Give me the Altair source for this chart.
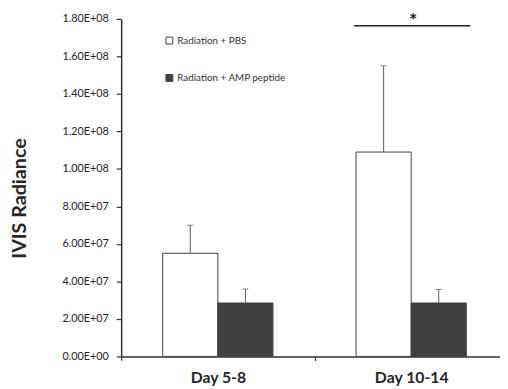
import altair as alt
import pandas as pd

categories = ["Day 5-8", "Day 10-14"]
groups = ["Radiation + PBS", "Radiation + AMP peptide"]
pbs_mean = [5.5e7, 1.09e8]
pbs_err = [1.5e7, 4.6e7]
amp_mean = [2.85e7, 2.85e7]
amp_err = [0.75e7, 0.72e7]
y_ticks = [0.0, 2e7, 4e7, 6e7, 8e7, 1e8, 1.2e8, 1.4e8, 1.6e8, 1.8e8]
sig_day = ["Day 10-14"]
sig_level = [1.763e8]
sig_label = ["*"]

rows = []
for i, c in enumerate(categories):
    rows.append(dict(day=c, group=groups[0], mean=pbs_mean[i], upper=pbs_mean[i] + pbs_err[i]))
    rows.append(dict(day=c, group=groups[1], mean=amp_mean[i], upper=amp_mean[i] + amp_err[i]))
df = pd.DataFrame(rows)
sig = pd.DataFrame({"day": sig_day, "mean": sig_level, "label": sig_label})

FONT = "Lato"
TXT = "#262626"
AX = "#333333"

label_expr = (
    "datum.value == 0 ? '0.00E+00' : "
    "format(datum.value / pow(10, floor(log(datum.value)/LN10 + 1e-9)), '.2f') + 'E+' + "
    "(floor(log(datum.value)/LN10 + 1e-9) < 10 ? '0' : '') + floor(log(datum.value)/LN10 + 1e-9)"
)

x = alt.X(
    "day:N", sort=categories,
    scale=alt.Scale(domain=categories, paddingInner=0, paddingOuter=0, range=[0, 393]),
    axis=alt.Axis(title=None, labelAngle=0, tickBand="extent", domainColor=AX, domainWidth=1.5,
                  tickColor=AX, tickSize=4, tickWidth=1.2, labelFont=FONT, labelFontSize=16,
                  labelFontWeight="bold", labelColor=TXT, labelPadding=9),
)
xo = alt.XOffset("group:N", sort=groups,
                 scale=alt.Scale(domain=groups, paddingInner=0, paddingOuter=0.754))
y_scale = alt.Scale(domain=[0, 1.8e8], nice=False)
y_axis = alt.Axis(values=y_ticks, tickCount=10, labelExpr=label_expr, labelOverlap=False,
                  labelFlush=False, grid=False, domainColor=AX, domainWidth=1.5,
                  tickColor=AX, tickSize=5, tickWidth=1.2, labelFont=FONT, labelFontSize=11,
                  labelColor=TXT, labelPadding=8, title="IVIS Radiance", titleFont=FONT,
                  titleFontSize=20, titleFontWeight="bold", titleColor=TXT, titleAngle=270,
                  titleX=-103, titleY=182, titleAlign="center", titleBaseline="middle")
y = alt.Y("mean:Q", scale=y_scale, axis=y_axis)

bars = alt.Chart(df).mark_bar(stroke="#404040", strokeWidth=1).encode(
    x=x, xOffset=xo, y=y,
    fill=alt.Fill("group:N", sort=groups,
                  scale=alt.Scale(domain=groups, range=["#ffffff", "#404040"]),
                  legend=alt.Legend(title=None, orient="none", legendX=44, legendY=17,
                                    symbolType="square", symbolSize=49,
                                    symbolStrokeColor="#404040", symbolStrokeWidth=1,
                                    labelFont=FONT, labelFontSize=10, labelColor="#333333",
                                    labelOffset=3, rowPadding=26, direction="vertical")),
)

err = alt.Chart(df).mark_rule(color="#595959", strokeWidth=1).encode(
    x=x, xOffset=xo, y=y, y2="upper:Q"
)
caps = alt.Chart(df).mark_tick(color="#595959", thickness=1, size=6).encode(
    x=x, xOffset=xo, y=alt.Y("upper:Q", scale=y_scale, axis=y_axis)
)

sig_rule = alt.Chart(sig).mark_rule(color="#222222", strokeWidth=1.5, xOffset=-58, x2Offset=60).encode(
    x=x, x2="day:N", y=y
)
sig_text = alt.Chart(sig).mark_text(font=FONT, fontSize=20, fontWeight="bold", color="#222222",
                                    baseline="alphabetic", dx=2, dy=1).encode(
    x=x, y=y, text="label:N"
)

chart = alt.layer(bars, err, caps, sig_rule, sig_text).properties(
    width=385, height=343,
    autosize=alt.AutoSizeParams(type="none"),
    padding={"left": 115, "top": 8, "right": 0, "bottom": 30},
    background="white",
).configure_view(stroke=None).configure_axisY(labelOverlap=False)

chart.save("out.html", embed_options={"renderer": "svg", "actions": False})
